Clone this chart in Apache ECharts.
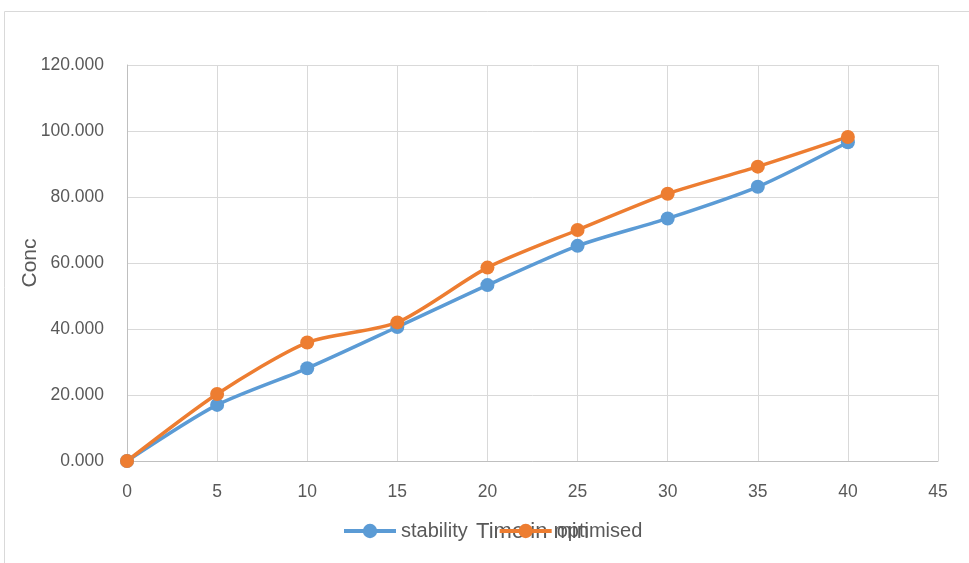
<!DOCTYPE html>
<html><head><meta charset="utf-8">
<script src="https://cdn.jsdelivr.net/npm/echarts@6/dist/echarts.min.js"></script>
<style>html,body{margin:0;padding:0;background:#fff}#c{width:969px;height:563px}</style>
</head><body><div id="c"></div>
<script>
const times = [0, 5, 10, 15, 20, 25, 30, 35, 40];
const stability = [0, 17.0, 28.1, 40.6, 53.3, 65.2, 73.5, 83.1, 96.6];
const optimised = [0, 20.3, 35.9, 42.0, 58.6, 70.0, 81.0, 89.2, 98.2];
const seriesNames = ['stability', 'optimised'];
const xTitle = 'Time in min';
const yTitle = 'Conc';

const font = 'Liberation Sans, sans-serif';
const chart = echarts.init(document.getElementById('c'));
const pair = (ys) => times.map((t, i) => [t, ys[i]]);
chart.setOption({
  animation: false,
  graphic: [{type: 'rect', shape: {x: 4.5, y: 11.5, width: 980, height: 560}, style: {fill: 'none', stroke: '#d9d9d9', lineWidth: 1}, silent: true}],
  grid: {left: 127, right: 31, top: 65, bottom: 102},
  legend: {
    data: seriesNames, top: 516, left: 337, itemWidth: 52, itemHeight: 18, itemGap: 30,
    lineStyle: {width: 4},
    textStyle: {fontFamily: font, fontSize: 20, color: '#595959'}
  },
  xAxis: {
    type: 'value', min: 0, max: 45, interval: 5,
    name: xTitle, nameLocation: 'middle', nameGap: 60, nameMoveOverlap: false,
    nameTextStyle: {fontFamily: font, fontSize: 22, color: '#595959'},
    axisLine: {show: true, lineStyle: {color: '#bfbfbf', width: 1}},
    axisTick: {show: false},
    axisLabel: {fontFamily: font, fontSize: 17.5, color: '#595959', margin: 22},
    splitLine: {show: true, lineStyle: {color: '#d9d9d9', width: 1}}
  },
  yAxis: {
    type: 'value', min: 0, max: 120, interval: 20,
    name: yTitle, nameLocation: 'middle', nameGap: 86, nameMoveOverlap: false,
    nameTextStyle: {fontFamily: font, fontSize: 21, color: '#595959'},
    axisLine: {show: true, lineStyle: {color: '#bfbfbf', width: 1}},
    axisTick: {show: false},
    axisLabel: {fontFamily: font, fontSize: 17.5, color: '#595959', margin: 23, formatter: v => v.toFixed(3)},
    splitLine: {show: true, lineStyle: {color: '#d9d9d9', width: 1}}
  },
  series: [
    {name: seriesNames[0], type: 'line', data: pair(stability), smooth: 0.25, symbol: 'circle', symbolSize: 14,
     lineStyle: {color: '#5B9BD5', width: 3.5}, itemStyle: {color: '#5B9BD5'}},
    {name: seriesNames[1], type: 'line', data: pair(optimised), smooth: 0.25, symbol: 'circle', symbolSize: 14,
     lineStyle: {color: '#ED7D31', width: 3.5}, itemStyle: {color: '#ED7D31'}}
  ]
});
</script></body></html>
